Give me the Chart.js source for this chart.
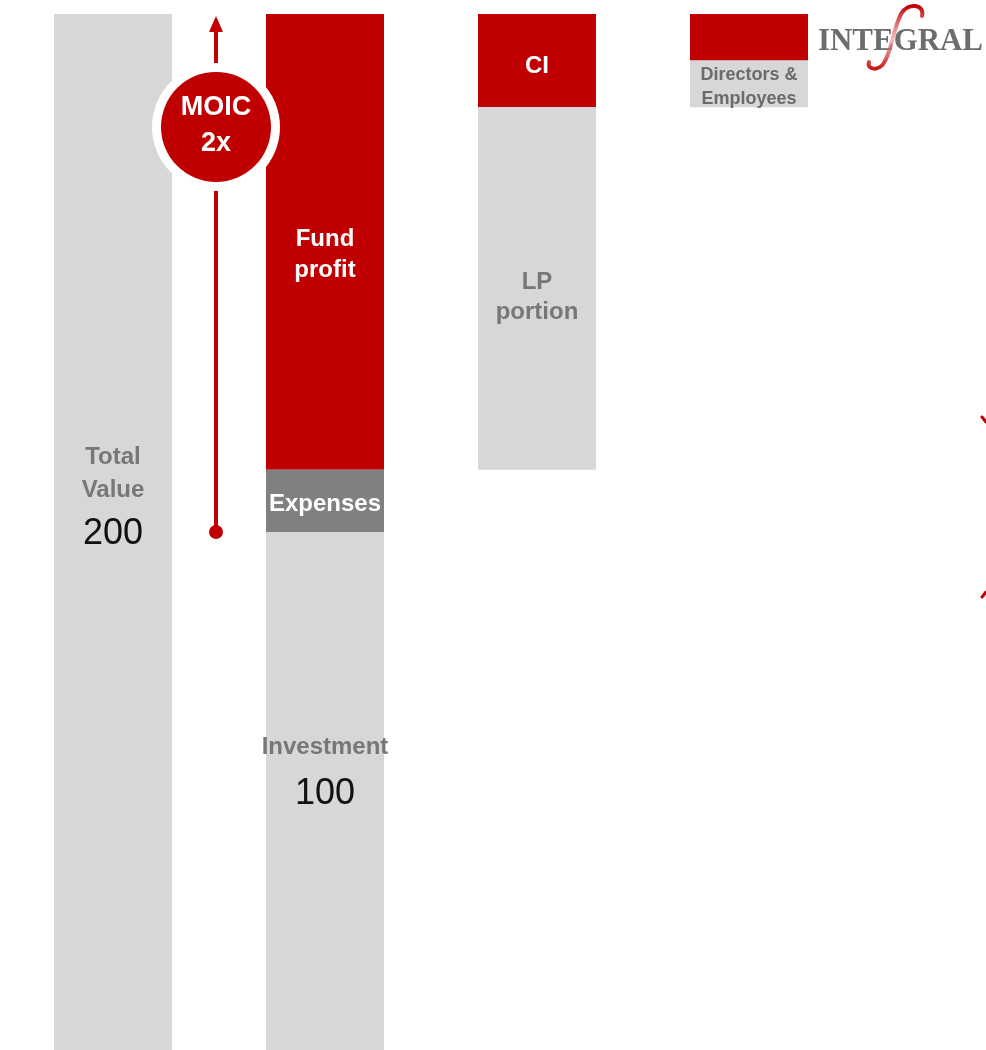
<!DOCTYPE html>
<html lang="en">
<head>
<meta charset="UTF-8">
<title>Fund waterfall</title>
<script src="https://cdn.jsdelivr.net/npm/chart.js"></script>
<style>
  * { margin: 0; padding: 0; box-sizing: border-box; }
  body { background: #fff; width: 986px; height: 1050px; overflow: hidden; }
  #wrap { position: relative; width: 986px; height: 1050px; }
</style>
</head>
<body>
<div id="wrap"><canvas id="chart" width="986" height="1050"></canvas></div>
<script>
  // categories (columns) and floating segments [low, high]
  const categories = ['Total', 'Fund', 'Split', 'Carry'];
  const lightSegments = [[0, 200], [0, 100], [112, 182], [182, 191]];
  const expenseSegments = [null, [100, 112], null, null];
  const redSegments = [null, [112, 200], [182, 200], [191, 200]];

  // in-bar labels: column, value for the text line, text, kind
  const labelCats = [0, 0, 0, 1, 1, 1, 1, 1, 2, 2, 2, 3, 3];
  const labelVals = [114.7, 108.5, 100, 156.8, 150.8, 105.8, 58.9, 49.8, 148.6, 142.7, 190.3, 188.6, 184];
  const labelTexts = ['Total', 'Value', '200', 'Fund', 'profit', 'Expenses', 'Investment', '100', 'LP', 'portion', 'CI', 'Directors &', 'Employees'];
  const labelKinds = ['gray', 'gray', 'num', 'white', 'white', 'white', 'gray', 'num', 'gray', 'gray', 'white', 'small', 'small'];

  // MOIC arrow: from investment to total value
  const moicFrom = 100;
  const moicTo = 200;
  const moicCircleVal = 178.2;
  const moicText = ['MOIC', '2x'];

  const RED = '#C00000';
  const LIGHT = '#D6D7D9';
  const DARK = '#808080';
  const SANS = '"Liberation Sans", Arial, sans-serif';

  const labelPlugin = {
    id: 'labels',
    afterDatasetsDraw(chart) {
      const { ctx, scales: { x, y } } = chart;
      ctx.save();
      ctx.textAlign = 'center';
      ctx.textBaseline = 'middle';
      labelTexts.forEach((t, i) => {
        const kind = labelKinds[i];
        if (kind === 'num') {
          ctx.font = '36px ' + SANS;
          ctx.fillStyle = '#111';
        } else if (kind === 'small') {
          ctx.font = 'bold 18px ' + SANS;
          ctx.fillStyle = '#6b6b6b';
        } else {
          ctx.font = 'bold 24px ' + SANS;
          ctx.fillStyle = kind === 'white' ? '#fff' : '#777';
        }
        ctx.fillText(t, x.getPixelForValue(labelCats[i]), y.getPixelForValue(labelVals[i]) + 2);
      });

      // MOIC arrow between first two columns
      const ax = (x.getPixelForValue(0) + x.getPixelForValue(1)) / 2 - 3;
      const yBot = y.getPixelForValue(moicFrom);
      const yTop = y.getPixelForValue(moicTo) + 2;
      ctx.strokeStyle = RED;
      ctx.fillStyle = RED;
      ctx.lineWidth = 4;
      ctx.beginPath();
      ctx.moveTo(ax, yBot);
      ctx.lineTo(ax, yTop + 14);
      ctx.stroke();
      ctx.beginPath();
      ctx.moveTo(ax, yTop);
      ctx.lineTo(ax - 7, yTop + 16);
      ctx.lineTo(ax + 7, yTop + 16);
      ctx.closePath();
      ctx.fill();
      ctx.beginPath();
      ctx.arc(ax, yBot, 7, 0, Math.PI * 2);
      ctx.fill();

      const cy = y.getPixelForValue(moicCircleVal);
      ctx.beginPath();
      ctx.arc(ax, cy, 64, 0, Math.PI * 2);
      ctx.fillStyle = '#fff';
      ctx.fill();
      ctx.beginPath();
      ctx.arc(ax, cy, 55, 0, Math.PI * 2);
      ctx.fillStyle = RED;
      ctx.fill();
      ctx.fillStyle = '#fff';
      ctx.font = 'bold 27px ' + SANS;
      ctx.fillText(moicText[0], ax, cy - 19);
      ctx.fillText(moicText[1], ax, cy + 17);

      // logo
      ctx.textAlign = 'left';
      ctx.textBaseline = 'alphabetic';
      ctx.font = 'bold 32px "Liberation Serif", "DejaVu Serif", serif';
      ctx.fillStyle = '#6d6d6d';
      const w = ctx.measureText('INTEGRAL').width;
      ctx.save();
      ctx.translate(818, 50);
      ctx.scale(165 / w, 1);
      ctx.fillText('INTEGRAL', 0, 0);
      ctx.restore();
      const g = ctx.createLinearGradient(0, 6, 0, 72);
      g.addColorStop(0, RED);
      g.addColorStop(0.5, 'rgba(235,140,140,0.6)');
      g.addColorStop(1, RED);
      ctx.strokeStyle = g;
      ctx.lineWidth = 4;
      ctx.lineCap = 'round';
      ctx.beginPath();
      ctx.moveTo(922, 16);
      ctx.bezierCurveTo(925, 4, 908, 2, 901, 14);
      ctx.bezierCurveTo(893, 30, 892, 48, 885, 61);
      ctx.bezierCurveTo(880, 72, 866, 70, 869, 62);
      ctx.stroke();

      // small marks at the right edge
      ctx.strokeStyle = RED;
      ctx.lineWidth = 3;
      ctx.beginPath();
      ctx.moveTo(982, 417); ctx.lineTo(986, 422);
      ctx.moveTo(982, 597); ctx.lineTo(986, 592);
      ctx.stroke();
      ctx.restore();
    }
  };

  const common = { grouped: false, barPercentage: 118 / 212, categoryPercentage: 1, borderWidth: 0 };

  new Chart(document.getElementById('chart'), {
    type: 'bar',
    data: {
      labels: categories,
      datasets: [
        Object.assign({ label: 'Base', data: lightSegments, backgroundColor: LIGHT }, common),
        Object.assign({ label: 'Expenses', data: expenseSegments, backgroundColor: DARK }, common),
        Object.assign({ label: 'Profit', data: redSegments, backgroundColor: RED }, common)
      ]
    },
    options: {
      responsive: false,
      animation: false,
      layout: { padding: { left: 7, right: 131, top: 14, bottom: 0 } },
      plugins: { legend: { display: false }, tooltip: { enabled: false } },
      scales: {
        x: { display: false, offset: true, grid: { display: false } },
        y: { display: false, min: 0, max: 200, grid: { display: false } }
      }
    },
    plugins: [labelPlugin]
  });
</script>
</body>
</html>
